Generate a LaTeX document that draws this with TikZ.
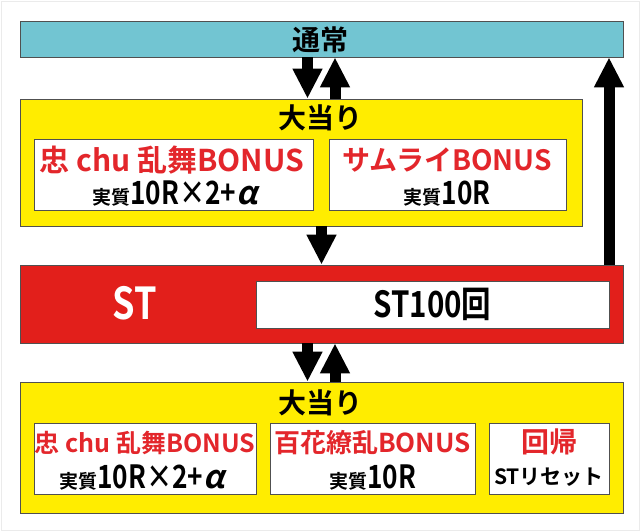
\documentclass[tikz,border=0pt]{standalone}
\usepackage{fontspec}
\setmainfont{Noto Sans CJK JP}[BoldFont={* Bold}]
\newfontfamily\slantfont{Noto Sans CJK JP}[FakeSlant=0.22,BoldFont={* Bold},BoldFeatures={FakeSlant=0.22}]
\newfontfamily\narrowfont{Noto Sans CJK JP}[FakeStretch=0.82,BoldFont={* Bold},BoldFeatures={FakeStretch=0.82}]
\usetikzlibrary{arrows.meta}
\definecolor{tsujou}{HTML}{72C5D2}
\definecolor{atari}{HTML}{FFED00}
\definecolor{stred}{HTML}{E21F1B}
\definecolor{bonusred}{HTML}{E3262B}
\definecolor{rim}{HTML}{505050}
\newcommand{\jitsu}[1]{{\fontsize{19}{20}\selectfont 実質}{\narrowfont\fontsize{32}{33}\selectfont #1}}

\begin{document}
\begin{tikzpicture}[x=1pt,y=-1pt,font=\bfseries,
  bar node/.style={rectangle,draw=rim,line width=0.8pt,inner sep=0pt},
  big node/.style={rectangle,fill=atari,draw=rim,line width=0.8pt,inner sep=0pt},
  sub node/.style={rectangle,fill=white,draw=rim,line width=0.8pt,inner sep=0pt},
  red text/.style={text=bonusred,inner sep=0pt},
  fat/.style={line width=11pt,-{Triangle[width=28pt,length=30pt]}}]

  \useasboundingbox (0,0) rectangle (640,531);
  \draw[black!8,line width=1pt] (1,1) rectangle (639,530);

  % normal mode
  \node[bar node,fill=tsujou,minimum width=603,minimum height=36] (0) at (321.5,39) {};
  \node (0t) at (320,40) {\fontsize{28}{30}\selectfont 通常};

  % first hit
  \node[big node,minimum width=562,minimum height=127] (1) at (301,162.5) {};
  \node (1t) at (320,118) {\fontsize{28}{30}\selectfont 大当り};
  \node[sub node,minimum width=279,minimum height=71] (1a) at (173.5,174.5) {};
  \node[red text] (1a1) at (172,160) {\fontsize{30}{31}\selectfont 忠 chu 乱舞BONUS};
  \node (1a2) at (175,194) {\jitsu{10R×2+{\slantfont α}}};
  \node[sub node,minimum width=237,minimum height=71] (1b) at (447.5,174.5) {};
  \node[red text] (1b1) at (447,160) {\fontsize{28}{31}\selectfont サムライBONUS};
  \node (1b2) at (447,194) {\jitsu{10R}};

  % ST
  \node[bar node,fill=stred,minimum width=603,minimum height=78] (2) at (321.5,304) {};
  \node[text=white] (2t) at (135,303) {\narrowfont\fontsize{44}{46}\selectfont ST};
  \node[sub node,minimum width=353,minimum height=47] (2a) at (432.5,304.5)
    {\narrowfont\fontsize{36}{38}\selectfont ST100回};

  % second hit
  \node[big node,minimum width=603,minimum height=131] (3) at (321.5,447.5) {};
  \node (3t) at (320,403) {\fontsize{28}{30}\selectfont 大当り};
  \node[sub node,minimum width=222,minimum height=71] (3a) at (145,458.5) {};
  \node[red text] (3a1) at (145,443) {\fontsize{25}{27}\selectfont 忠 chu 乱舞BONUS};
  \node (3a2) at (142,478) {\jitsu{10R×2+{\slantfont α}}};
  \node[sub node,minimum width=205,minimum height=71] (3b) at (372.5,458.5) {};
  \node[red text] (3b1) at (372.5,443) {\fontsize{26}{27}\selectfont 百花繚乱BONUS};
  \node (3b2) at (372.5,478) {\jitsu{10R}};
  \node[sub node,minimum width=120,minimum height=71] (3c) at (549,458.5) {};
  \node[red text] (3c1) at (549,442) {\fontsize{28}{29}\selectfont 回帰};
  \node (3c2) at (549,477) {\fontsize{21}{22}\selectfont STリセット};

  \coordinate (dn) at (307.5,0);
  \coordinate (up) at (335,0);
  \coordinate (mid) at (321.5,0);
  \coordinate (back) at (609,0);

  \draw[fat] (0.south -| dn) -- (1.north -| dn);
  \draw[fat] (1.north -| up) -- (0.south -| up);
  \draw[fat] (1.south -| mid) -- (2.north -| mid);
  \draw[fat] (2.north -| back) -- (0.south -| back);
  \draw[fat] (2.south -| dn) -- (3.north -| dn);
  \draw[fat] (3.north -| up) -- (2.south -| up);

\end{tikzpicture}
\end{document}
